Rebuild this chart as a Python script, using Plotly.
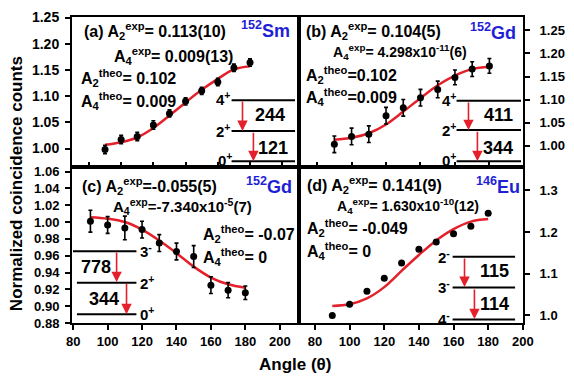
import plotly.graph_objects as go

# ---------------- data ----------------
angles = [90, 100, 110, 120, 130, 140, 150, 160, 170, 180]

sm152_y   = [0.998, 1.017, 1.023, 1.045, 1.067, 1.090, 1.110, 1.127, 1.154, 1.164]
sm152_err = [0.008, 0.008, 0.008, 0.008, 0.007, 0.007, 0.007, 0.007, 0.007, 0.007]
sm152_fit = [1.007, 1.012, 1.021, 1.039, 1.063, 1.088, 1.112, 1.133, 1.151, 1.157]

gd152b_y   = [1.003, 1.020, 1.025, 1.065, 1.082, 1.104, 1.122, 1.148, 1.166, 1.173]
gd152b_err = [0.018, 0.018, 0.018, 0.018, 0.018, 0.018, 0.018, 0.016, 0.016, 0.016]
gd152b_fit = [1.013, 1.017, 1.027, 1.046, 1.074, 1.103, 1.131, 1.152, 1.166, 1.171]

gd152c_y   = [1.001, 0.9965, 0.993, 0.991, 0.975, 0.965, 0.959, 0.925, 0.919, 0.916]
gd152c_err = [0.013, 0.010, 0.014, 0.010, 0.010, 0.010, 0.013, 0.010, 0.009, 0.008]
gd152c_fit = [1.0058, 1.004, 1.000, 0.991, 0.978, 0.963, 0.947, 0.934, 0.926, 0.922]

eu146_y   = [1.000, 1.027, 1.058, 1.089, 1.126, 1.159, 1.176, 1.196, 1.214, 1.245]
eu146_fit = [1.023, 1.027, 1.041, 1.068, 1.107, 1.145, 1.180, 1.207, 1.225, 1.231]

x_ticks = [80, 100, 120, 140, 160, 180, 200]
ya_ticks = [1.00, 1.05, 1.10, 1.15, 1.20, 1.25]
yb_ticks = [0.95, 1.00, 1.05, 1.10, 1.15, 1.20, 1.25]
yc_ticks = [0.88, 0.90, 0.92, 0.94, 0.96, 0.98, 1.00, 1.02, 1.04, 1.06]
yd_ticks = [1.0, 1.1, 1.2, 1.3]

# ---------------- layout geometry ----------------
W, H = 574, 381
ML, MR, MT, MB = 72, 47, 9, 58
PW, PH = W - ML - MR, H - MT - MB
XS = (300.7 - ML) / PW
YS = (H - MB - 163.3) / PH

def P(px, py):
    return (px - ML) / PW, (H - MB - py) / PH

RED = "#e4202a"
BLUE = "#1f1fd6"
FONT = "Arial, Liberation Sans, sans-serif"

fig = go.Figure()

panels = [
    ("x", "y", sm152_y, sm152_err, sm152_fit),
    ("x2", "y2", gd152b_y, gd152b_err, gd152b_fit),
    ("x3", "y3", gd152c_y, gd152c_err, gd152c_fit),
    ("x4", "y4", eu146_y, None, eu146_fit),
]
for xa, ya, yv, ye, fit in panels:
    fig.add_trace(go.Scatter(
        x=angles, y=fit, mode="lines", xaxis=xa, yaxis=ya,
        line=dict(color=RED, width=2.5, shape="spline", smoothing=1.0),
        showlegend=False, hoverinfo="skip"))
    fig.add_trace(go.Scatter(
        x=angles, y=yv, mode="markers", xaxis=xa, yaxis=ya,
        marker=dict(color="black", size=7),
        error_y=(dict(type="data", array=ye, color="black", thickness=1.6, width=2)
                 if ye is not None else None),
        showlegend=False))

def axis_common(size):
    return dict(showline=True, linecolor="black", linewidth=2, mirror=True,
                showgrid=False, zeroline=False, ticks="outside", ticklen=5,
                tickwidth=1.5, tickcolor="black",
                tickfont=dict(family=FONT, size=size, color="black", weight="bold"))

def xax(domain, rng, anchor, bottom):
    d = axis_common(13)
    d.update(domain=domain, range=rng, anchor=anchor, tickvals=x_ticks,
             showticklabels=bottom, ticks="outside" if bottom else "inside",
             ticklabelstandoff=0)
    return d

def yax(domain, rng, anchor, ticks, side, fmt, size, standoff):
    d = axis_common(size)
    d.update(domain=domain, range=rng, anchor=anchor, tickvals=ticks,
             side=side, tickformat=fmt, ticklabelstandoff=standoff)
    return d

fig.update_layout(
    width=W, height=H,
    margin=dict(l=ML, r=MR, t=MT, b=MB),
    plot_bgcolor="white", paper_bgcolor="white",
    font=dict(family=FONT, size=14, color="black"),
    xaxis=xax([0, XS], [69.5, 210.2], "y", False),
    yaxis=yax([YS, 1], [0.964, 1.251], "x", ya_ticks, "left", ".2f", 14, 3),
    xaxis2=xax([XS, 1], [69.3, 199.5], "y2", False),
    yaxis2=yax([YS, 1], [0.953, 1.279], "x2", yb_ticks, "right", ".2f", 13, 7),
    xaxis3=xax([0, XS], [79.3, 211], "y3", True),
    yaxis3=yax([0, YS], [0.88, 1.065], "x3", yc_ticks, "left", ".2f", 13, 3),
    xaxis4=xax([XS, 1], [70.6, 200.1], "y4", True),
    yaxis4=yax([0, YS], [0.982, 1.355], "x4", yd_ticks, "right", ".1f", 13, 7),
)

annotations = []

def text(px, py, s, size=16, color="black", anchor="left"):
    x, y = P(px, py)
    annotations.append(dict(x=x, y=y, xref="paper", yref="paper", text=s,
                            showarrow=False, xanchor=anchor, yanchor="middle",
                            font=dict(family=FONT, size=size, color=color)))

def b(s):
    return "<b>" + s + "</b>"

shapes = []

def level(x0, x1, py):
    a0, yy = P(x0, py)
    a1, _ = P(x1, py)
    shapes.append(dict(type="line", xref="paper", yref="paper", x0=a0, x1=a1,
                       y0=yy, y1=yy, line=dict(color="black", width=2)))

def arrow(px, py0, py1):
    x, y = P(px, py1)
    annotations.append(dict(x=x, y=y, xref="paper", yref="paper", text="",
                            showarrow=True, ax=0, ay=-(py1 - py0), axref="pixel",
                            ayref="pixel", arrowcolor=RED, arrowwidth=1.6,
                            arrowhead=2, arrowsize=1.3, standoff=0))

# panel (a)
text(82, 23, b("(a) A<sub>2</sub><sup>exp</sup>= 0.113(10)"))
text(240, 22, b("<sup>152</sup>Sm"), size=18, color=BLUE)
text(112, 49, b("A<sub>4</sub><sup>exp</sup>= 0.009(13)"))
text(79, 72, b("A<sub>2</sub><sup>theo</sup>= 0.102"))
text(79, 95, b("A<sub>4</sub><sup>theo</sup>= 0.009"))
level(233, 297, 94.3); level(233, 297, 126); level(233, 297, 157)
text(233, 93, b("4<sup>+</sup>"), size=15, anchor="right")
text(233, 125, b("2<sup>+</sup>"), size=15, anchor="right")
text(235, 155, b("0<sup>+</sup>"), size=15, anchor="right")
arrow(244, 95, 126); arrow(255, 127, 157)
text(272, 110, b("244"), size=18, anchor="center")
text(275, 143, b("121"), size=18, anchor="center")

# panel (b)
text(306, 23, b("(b) A<sub>2</sub><sup>exp</sup>= 0.104(5)"))
text(472, 24, b("<sup>152</sup>Gd"), size=18, color=BLUE)
text(333, 45, b("A<sub>4</sub><sup>exp</sup>= 4.298x10<sup>-11</sup>(6)"), size=14)
text(306, 69, b("A<sub>2</sub><sup>theo</sup>=0.102"))
text(306, 91, b("A<sub>4</sub><sup>theo</sup>=0.009"))
level(460, 525, 95); level(460, 525, 125); level(460, 525, 157)
text(461, 94, b("4<sup>+</sup>"), size=15, anchor="right")
text(461, 124, b("2<sup>+</sup>"), size=15, anchor="right")
text(461, 155, b("0<sup>+</sup>"), size=15, anchor="right")
arrow(472, 96, 125); arrow(481, 126, 157)
text(502, 110, b("411"), size=18, anchor="center")
text(502, 143, b("344"), size=18, anchor="center")

# panel (c)
text(80, 182, b("(c) A<sub>2</sub><sup>exp</sup>=-0.055(5)"))
text(246, 182, b("<sup>152</sup>Gd"), size=18, color=BLUE)
text(111, 203, b("A<sub>4</sub><sup>exp</sup>=-7.340x10<sup>-5</sup>(7)"), size=15)
text(202, 232, b("A<sub>2</sub><sup>theo</sup>= -0.07"))
text(202, 255, b("A<sub>4</sub><sup>theo</sup>= 0"))
level(73, 137, 249.3); level(77, 137, 281.7); level(77, 137, 314)
text(139, 249, b("3<sup>-</sup>"), size=15)
text(139, 281, b("2<sup>+</sup>"), size=15)
text(139, 313, b("0<sup>+</sup>"), size=15)
arrow(117, 250, 281); arrow(127, 282, 314)
text(96, 266, b("778"), size=18, anchor="center")
text(104, 298, b("344"), size=18, anchor="center")

# panel (d)
text(307, 181, b("(d) A<sub>2</sub><sup>exp</sup>= 0.141(9)"))
text(478, 182, b("<sup>146</sup>Eu"), size=18, color=BLUE)
text(337, 203, b("A<sub>4</sub><sup>exp</sup>= 1.630x10<sup>-10</sup>(12)"), size=14)
text(307, 226, b("A<sub>2</sub><sup>theo</sup>= -0.049"))
text(307, 249, b("A<sub>4</sub><sup>theo</sup>= 0"))
level(456, 519, 255); level(456, 519, 286.7); level(456, 519, 319.3)
text(455, 255, b("2<sup>-</sup>"), size=15, anchor="right")
text(455, 286, b("3<sup>-</sup>"), size=15, anchor="right")
text(455, 318, b("4<sup>-</sup>"), size=15, anchor="right")
arrow(468, 256, 286); arrow(478, 288, 319)
text(498, 270, b("115"), size=18, anchor="center")
text(498, 304, b("114"), size=18, anchor="center")

# axis titles
text(297, 366, b("Angle (θ)"), size=17, anchor="center")
x, y = P(16, 180)
annotations.append(dict(x=x, y=y, xref="paper", yref="paper",
                        text=b("Normalized coincidence counts"), showarrow=False,
                        textangle=-90, xanchor="center", yanchor="middle",
                        font=dict(family=FONT, size=17, color="black")))

fig.update_layout(annotations=annotations, shapes=shapes)
fig.write_html("out.html",
               config={"displayModeBar": False},
               post_script="document.body.style.margin='0';"
                           "document.body.style.overflow='hidden';")
